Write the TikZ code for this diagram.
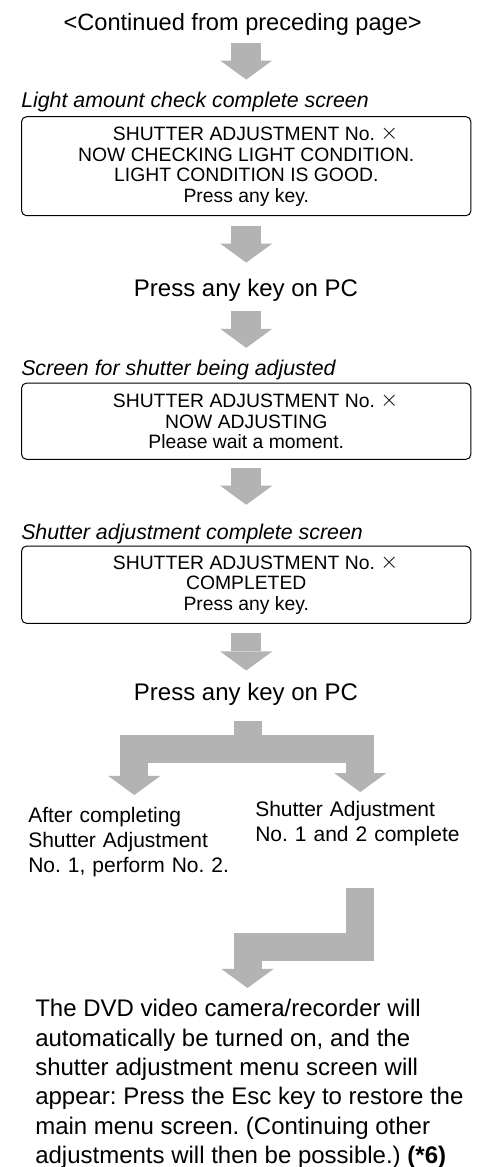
\documentclass[tikz,border=0pt]{standalone}
\usepackage{fontspec}
\setmainfont{Liberation Sans}
\usepackage{xcolor}
\usepackage{graphicx}
\usepackage{tikz}
\usetikzlibrary{arrows.meta}
\definecolor{arrowgray}{RGB}{179,179,179}
\newcommand{\nocross}{\raisebox{0.6pt}{\scalebox{1.2}{$\times$}}}
\frenchspacing

\begin{document}
\begin{tikzpicture}[x=0.75pt,y=-0.75pt]
\tikzstyle{screen}=[draw,rounded corners=3.75pt,line width=0.75pt,minimum width=337pt,align=center,font=\fontsize{14.5}{15.4}\selectfont]
\tikzstyle{caption}=[inner sep=0,anchor=base west,font=\fontsize{16}{19}\selectfont\itshape]
\tikzstyle{keytext}=[inner sep=0,anchor=base,font=\fontsize{18}{22}\selectfont]
\tikzstyle{branch}=[inner sep=0,anchor=north west,text width=157.5pt,align=left,font=\fontsize{15.75}{18.75}\selectfont]
\tikzstyle{fat}=[draw=arrowgray,line width=22.5pt,-{Triangle[width=39pt,length=14.25pt,line width=0pt]}]
\useasboundingbox[fill=white] (0,0) rectangle (482,1167);
\node[keytext,font=\fontsize{17.7}{21}\selectfont] (cont) at (242.7,31) {<Continued from preceding page>};
\node[caption] (lightlbl) at (21,107) {Light amount check complete screen};
\node[screen,minimum height=74.25pt] (light) at (246.25,166.2) {\hspace*{14pt}SHUTTER ADJUSTMENT No. \nocross\\NOW CHECKING LIGHT CONDITION.\\LIGHT CONDITION IS GOOD.\\Press any key.};
\node[keytext] (key1) at (246,296.5) {Press any key on PC};
\node[caption] (adjlbl) at (21,375) {Screen for shutter being adjusted};
\node[screen,minimum height=57.2pt] (adjust) at (246.25,421.2) {\hspace*{14pt}SHUTTER ADJUSTMENT No. \nocross\\NOW ADJUSTING\\Please wait a moment.};
\node[caption] (donelbl) at (21,539) {Shutter adjustment complete screen};
\node[screen,minimum height=58pt] (done) at (246.25,584.7) {\hspace*{14pt}SHUTTER ADJUSTMENT No. \nocross\\COMPLETED\\Press any key.};
\node[keytext] (key2) at (246,700) {Press any key on PC};
\node[branch,text width=159pt] (again) at (28,807.5) {After completing\\Shutter Adjustment\\No. 1, perform No. 2.};
\node[branch] (both) at (255,801.4) {Shutter Adjustment\\No. 1 and 2 complete};
\node[inner sep=0,anchor=north west,align=left,font=\fontsize{18}{22}\selectfont] (restore) at (35,999.3) {The DVD video camera/recorder will\\automatically be turned on, and the\\shutter adjustment menu screen will\\appear: Press the Esc key to restore the\\main menu screen. (Continuing other\\adjustments will then be possible.) \textbf{(*6)}};
\coordinate (fork) at (247.5,749);
\coordinate (bend) at (247.5,946.5);
\draw[fat,shorten <=5.25pt,shorten >=8.8pt] (cont.south -| light.north) -- (lightlbl.north -| light.north);
\draw[fat,shorten <=7.7pt,shorten >=12.2pt] (light.south) -- (light.south |- key1.north);
\draw[fat,shorten <=7.1pt,shorten >=8.6pt] (key1.south -| adjust.north) -- (adjlbl.north -| adjust.north);
\draw[fat,shorten <=6.2pt,shorten >=13.9pt] (adjust.south) -- (donelbl.north -| adjust.south);
\draw[fat,shorten <=7.1pt,shorten >=8.9pt] (done.south) -- (done.south |- key2.north);
\draw[fat,line width=21pt,shorten <=12pt,shorten >=9.4pt] (key2.south -| fork) -- (fork) -| (again.north);
\draw[fat,line width=21pt,shorten >=7pt] (fork) -| (both.north);
\draw[fat,line width=21pt,shorten <=30.75pt,shorten >=8.5pt] (both.south) |- (bend) -- (bend |- restore.north);
\end{tikzpicture}
\end{document}
